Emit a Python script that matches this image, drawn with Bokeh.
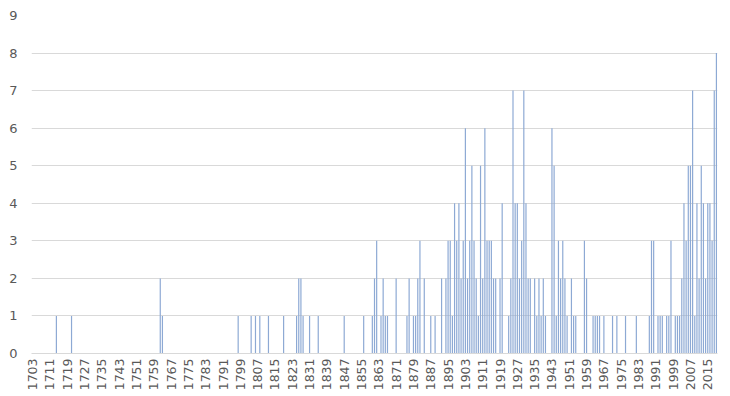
from bokeh.plotting import figure
from bokeh.models import Range1d, FixedTicker, ColumnDataSource
from bokeh.embed import file_html
from bokeh.resources import INLINE
import math

# ---- data ----
years = [1714, 1721, 1762, 1763, 1798, 1804, 1806, 1808, 1812, 1819,
         1825, 1826, 1827, 1828, 1831, 1835, 1847, 1856, 1860, 1861,
         1862, 1864, 1865, 1866, 1867, 1871, 1876, 1877, 1879, 1880,
         1881, 1882, 1884, 1887, 1889, 1892, 1894, 1895, 1896, 1897,
         1898, 1899, 1900, 1901, 1902, 1903, 1904, 1905, 1906, 1907,
         1908, 1909, 1910, 1911, 1912, 1913, 1914, 1915, 1916, 1917,
         1919, 1920, 1923, 1924, 1925, 1926, 1927, 1928, 1929, 1930,
         1931, 1932, 1933, 1935, 1936, 1937, 1938, 1939, 1940, 1943,
         1944, 1945, 1946, 1947, 1948, 1949, 1950, 1952, 1953, 1954,
         1958, 1959, 1962, 1963, 1964, 1965, 1967, 1971, 1973, 1977,
         1982, 1988, 1989, 1990, 1992, 1993, 1994, 1996, 1997, 1998,
         2000, 2001, 2002, 2003, 2004, 2005, 2006, 2007, 2008, 2009,
         2010, 2011, 2012, 2013, 2014, 2015, 2016, 2017, 2018, 2019]
counts = [1, 1, 2, 1, 1, 1, 1, 1, 1, 1,
          1, 2, 2, 1, 1, 1, 1, 1, 1, 2,
          3, 1, 2, 1, 1, 2, 1, 2, 1, 1,
          2, 3, 2, 1, 1, 2, 2, 3, 3, 1,
          4, 3, 4, 2, 3, 6, 2, 3, 5, 3,
          2, 1, 5, 2, 6, 3, 3, 3, 2, 2,
          2, 4, 1, 2, 7, 4, 4, 2, 3, 7,
          4, 2, 2, 2, 1, 2, 1, 2, 1, 6,
          5, 1, 3, 2, 3, 2, 1, 2, 1, 1,
          3, 2, 1, 1, 1, 1, 1, 1, 1, 1,
          1, 1, 3, 3, 1, 1, 1, 1, 1, 3,
          1, 1, 1, 2, 4, 3, 5, 5, 7, 1,
          4, 2, 5, 4, 2, 4, 4, 3, 7, 8]

first_year = 1703
last_year = 2019
tick_years = list(range(1703, 2016, 8))
y_ticks = list(range(0, 10))

source = ColumnDataSource(dict(year=years, count=counts))

p = figure(frame_width=686, frame_height=338,
           min_border_left=31, min_border_right=5,
           min_border_top=15, min_border_bottom=41,
           x_range=Range1d(first_year - 0.5, last_year + 0.5),
           y_range=Range1d(0, 9),
           output_backend="svg", toolbar_location=None)

p.vbar(x="year", top="count", width=0.55, source=source,
       fill_color="#8DA9D4", line_color=None)

p.outline_line_color = None
p.background_fill_color = "white"
p.border_fill_color = "white"

p.xgrid.grid_line_color = None
p.ygrid.grid_line_color = "#D9D9D9"
p.ygrid.grid_line_width = 1
p.ygrid.ticker = FixedTicker(ticks=y_ticks)

p.xaxis.ticker = FixedTicker(ticks=tick_years)
p.xaxis.major_label_orientation = math.pi / 2
p.xaxis.axis_line_color = "#D9D9D9"
p.xaxis.major_tick_line_color = None
p.xaxis.minor_tick_line_color = None
p.xaxis.major_tick_out = 0
p.xaxis.major_label_standoff = 5
p.xaxis.major_label_text_font = "DejaVu Sans"
p.xaxis.major_label_text_font_size = "12.5px"
p.xaxis.major_label_text_color = "#595959"

p.yaxis.ticker = FixedTicker(ticks=y_ticks)
p.yaxis.axis_line_color = None
p.yaxis.major_tick_line_color = None
p.yaxis.minor_tick_line_color = None
p.yaxis.major_tick_out = 0
p.yaxis.major_label_standoff = 14
p.yaxis.major_label_text_font = "DejaVu Sans"
p.yaxis.major_label_text_font_size = "13px"
p.yaxis.major_label_text_color = "#595959"

open("out.html", "w").write(file_html(p, INLINE))
